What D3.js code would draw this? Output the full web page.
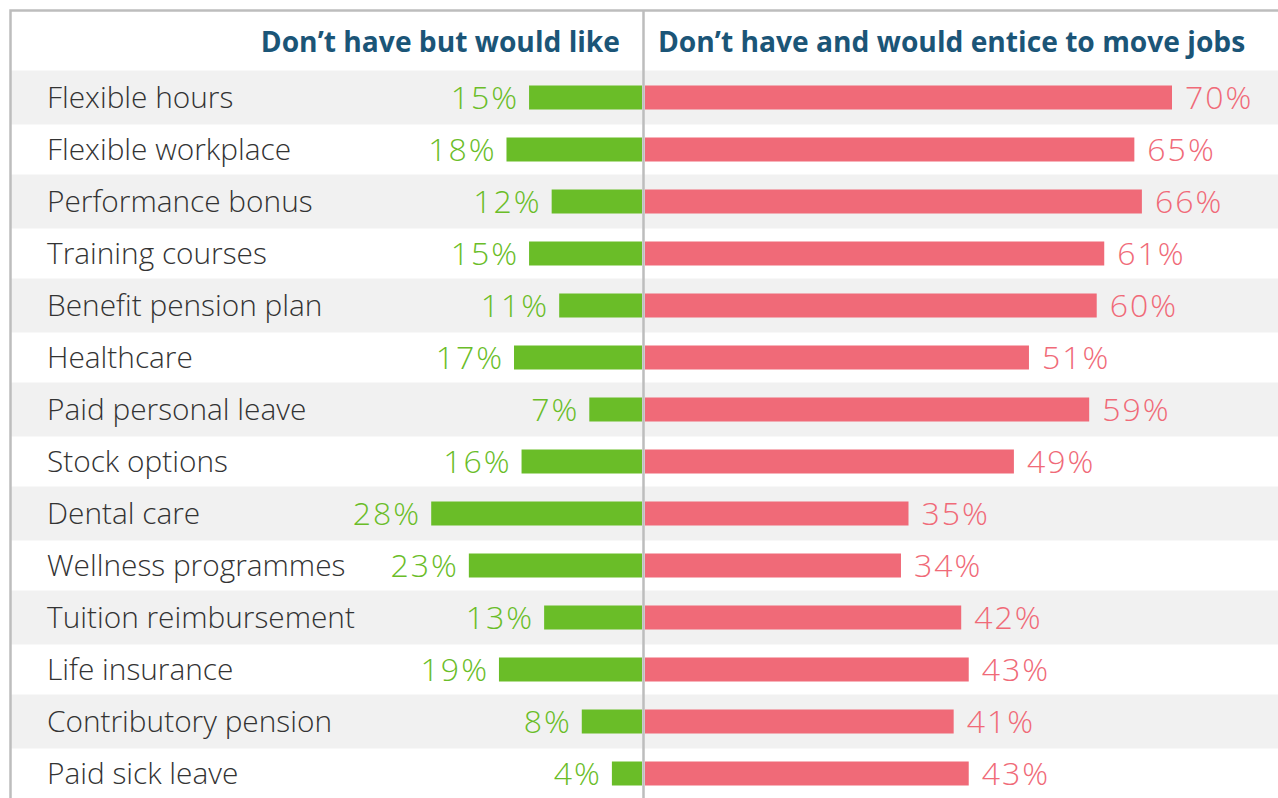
<!DOCTYPE html>
<html>
<head>
<meta charset="utf-8">
<script src="https://cdn.jsdelivr.net/npm/d3@7"></script>
<style>
  body { margin: 0; background: #fff; }
  svg { display: block; }
</style>
</head>
<body>
<div id="chart"></div>
<script>
var width = 1278;
var height = 798;

var benefits = ["Flexible hours", "Flexible workplace", "Performance bonus", "Training courses",
  "Benefit pension plan", "Healthcare", "Paid personal leave", "Stock options", "Dental care",
  "Wellness programmes", "Tuition reimbursement", "Life insurance", "Contributory pension", "Paid sick leave"];
var wouldLike = [15, 18, 12, 15, 11, 17, 7, 16, 28, 23, 13, 19, 8, 4];
var wouldMove = [70, 65, 66, 61, 60, 51, 59, 49, 35, 34, 42, 43, 41, 43];
var headers = ["Don\u2019t have but would like", "Don\u2019t have and would entice to move jobs"];

var mid = 643.5;
var green = "#6abd28";
var pink = "#f06a78";
var font = "'Open Sans', sans-serif";

var svg = d3.select("#chart")
  .append("svg")
  .attr("width", width)
  .attr("height", height);

// rows
var y = d3.scaleBand()
  .domain(benefits)
  .range([71.5, 71.5 + 52 * benefits.length]);

// same px per % on both sides
var xRight = d3.scaleLinear().domain([0, 70]).range([mid + 1.5, 1172]);
var xLeft = d3.scaleLinear().domain([0, 70]).range([mid - 1.5, mid - 1.5 - (1172 - mid - 1.5)]);

// zebra bands
svg.selectAll("rect.band")
  .data(benefits.filter(function(d, i) { return i % 2 == 0; }))
  .enter()
  .append("rect")
  .attr("class", "band")
  .attr("x", 11)
  .attr("width", width - 11)
  .attr("y", function(d) { return y(d) + y.bandwidth() / 2 - 27; })
  .attr("height", 54)
  .attr("fill", "#f1f1f1");

// frame
svg.append("path")
  .attr("d", "M10.5," + height + "V10.5H" + width)
  .attr("fill", "none")
  .attr("stroke", "#bdbdbd")
  .attr("stroke-width", 2.5);

var barH = 24;

svg.selectAll("rect.left")
  .data(wouldLike)
  .enter()
  .append("rect")
  .attr("class", "left")
  .attr("x", function(d) { return xLeft(d); })
  .attr("width", function(d) { return xLeft(0) - xLeft(d); })
  .attr("y", function(d, i) { return y(benefits[i]) + y.bandwidth() / 2 - barH / 2; })
  .attr("height", barH)
  .attr("fill", green);

svg.selectAll("rect.right")
  .data(wouldMove)
  .enter()
  .append("rect")
  .attr("class", "right")
  .attr("x", xRight(0))
  .attr("width", function(d) { return xRight(d) - xRight(0); })
  .attr("y", function(d, i) { return y(benefits[i]) + y.bandwidth() / 2 - barH / 2; })
  .attr("height", barH)
  .attr("fill", pink);

// divider
svg.append("line")
  .attr("x1", mid).attr("x2", mid)
  .attr("y1", 10).attr("y2", height)
  .attr("stroke", "#bdbdbd")
  .attr("stroke-width", 2.5);

// category labels
svg.selectAll("text.cat")
  .data(benefits)
  .enter()
  .append("text")
  .attr("class", "cat")
  .text(function(d) { return d; })
  .attr("x", 47)
  .attr("y", function(d) { return y(d) + y.bandwidth() / 2; })
  .attr("dy", "0.36em")
  .attr("font-family", font)
  .attr("font-weight", 300)
  .attr("font-size", "29.8px")
  .attr("fill", "#333");

svg.selectAll("text.lv")
  .data(wouldLike)
  .enter()
  .append("text")
  .attr("class", "lv")
  .text(function(d) { return d + "%"; })
  .attr("x", function(d) { return xLeft(d) - 10; })
  .attr("y", function(d, i) { return y(benefits[i]) + y.bandwidth() / 2; })
  .attr("dy", "0.36em")
  .attr("text-anchor", "end")
  .attr("font-family", font)
  .attr("font-weight", 300)
  .attr("font-size", "32px")
  .attr("letter-spacing", "2px")
  .attr("fill", green);

svg.selectAll("text.rv")
  .data(wouldMove)
  .enter()
  .append("text")
  .attr("class", "rv")
  .text(function(d) { return d + "%"; })
  .attr("x", function(d) { return xRight(d) + 13; })
  .attr("y", function(d, i) { return y(benefits[i]) + y.bandwidth() / 2; })
  .attr("dy", "0.36em")
  .attr("font-family", font)
  .attr("font-weight", 300)
  .attr("font-size", "32px")
  .attr("letter-spacing", "2px")
  .attr("fill", pink);

// headers
svg.append("text")
  .text(headers[0])
  .attr("x", 620)
  .attr("y", 52)
  .attr("text-anchor", "end")
  .attr("font-family", font)
  .attr("font-weight", "bold")
  .attr("font-size", "28.2px")
  .attr("fill", "#1b5577");

svg.append("text")
  .text(headers[1])
  .attr("x", 658)
  .attr("y", 52)
  .attr("font-family", font)
  .attr("font-weight", "bold")
  .attr("font-size", "28.2px")
  .attr("fill", "#1b5577");
</script>
</body>
</html>
